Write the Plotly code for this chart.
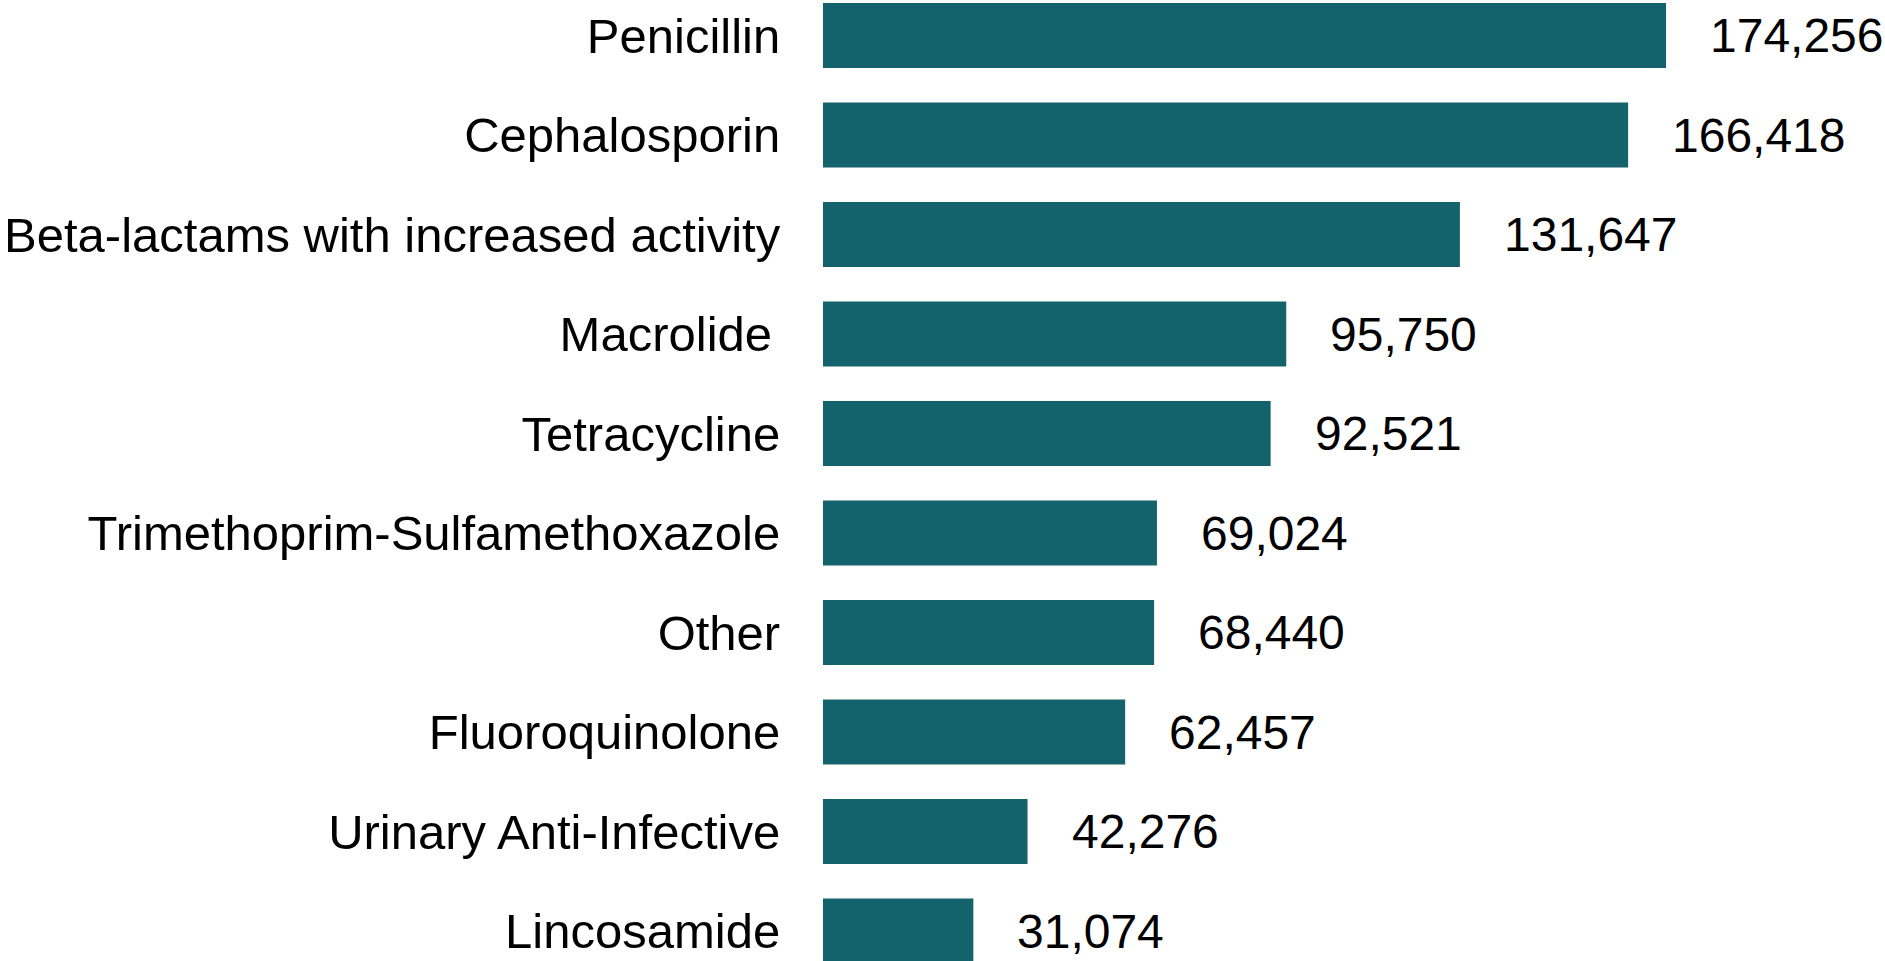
import plotly.graph_objects as go

categories = [
    "Penicillin",
    "Cephalosporin",
    "Beta-lactams with increased activity",
    "Macrolide\u2006",
    "Tetracycline",
    "Trimethoprim-Sulfamethoxazole",
    "Other",
    "Fluoroquinolone",
    "Urinary Anti-Infective",
    "Lincosamide",
]
values = [174256, 166418, 131647, 95750, 92521, 69024, 68440, 62457, 42276, 31074]

BAR_COLOR = "#13626C"
FONT = "Liberation Sans, Arial, sans-serif"

fig = go.Figure(
    go.Bar(
        x=values,
        y=categories,
        orientation="h",
        marker=dict(color=BAR_COLOR, line=dict(width=0)),
        hoverinfo="skip",
    )
)

for c, v in zip(categories, values):
    fig.add_annotation(
        x=v, y=c, text=f"{v:,}", showarrow=False,
        xanchor="left", yanchor="middle", xshift=42,
        font=dict(family=FONT, size=48, color="#000000"),
    )

fig.update_layout(
    width=1885,
    height=961,
    margin=dict(l=823, r=0, t=0, b=0),
    paper_bgcolor="white",
    plot_bgcolor="white",
    bargap=0.347,
    showlegend=False,
    font=dict(family=FONT, size=48, color="#000000"),
)
fig.update_xaxes(range=[0, 219512], visible=False, showgrid=False, zeroline=False)
fig.update_yaxes(
    range=[9.301, -0.357],
    showgrid=False, zeroline=False, showline=False,
    ticks="outside", ticklen=32, tickcolor="rgba(0,0,0,0)",
    tickfont=dict(family=FONT, size=49, color="#000000"),
)

fig.write_html(
    "out.html",
    config={"displayModeBar": False},
    post_script="document.body.style.margin='0px';document.body.style.overflow='hidden';",
)
